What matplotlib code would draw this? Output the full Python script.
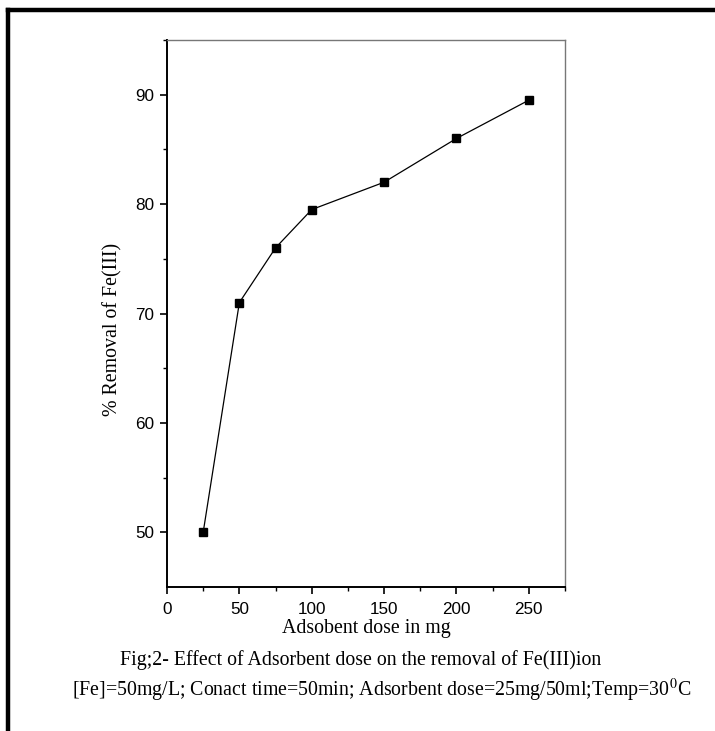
import matplotlib
matplotlib.use("Agg")
import matplotlib.pyplot as plt
from matplotlib.lines import Line2D

# adsorbent dose (mg) vs % removal of Fe(III)
dose = [25, 50, 75, 100, 150, 200, 250]
removal = [50, 71, 76, 79.5, 82, 86, 89.5]

x_ticks = [0, 50, 100, 150, 200, 250]
y_ticks = [50, 60, 70, 80, 90]

plt.rcParams['mathtext.fontset'] = 'stix'

W, H = 715, 731
fig = plt.figure(figsize=(W / 100, H / 100), dpi=100)
ax = fig.add_axes([167 / W, 1 - 587 / H, (565 - 167) / W, (587 - 40) / H])

ax.plot(dose, removal, color='black', lw=0.9, marker='s', ms=6,
        mfc='black', mec='black')

ax.set_xlim(0, 275)
ax.set_ylim(45, 95)
ax.set_xticks(x_ticks)
ax.set_xticks([25, 75, 125, 175, 225, 275], minor=True)
ax.set_yticks(y_ticks)
ax.set_yticks([55, 65, 75, 85, 95], minor=True)

for lab in ax.get_xticklabels() + ax.get_yticklabels():
    lab.set_family('Liberation Sans')
    lab.set_fontsize(12.3)
ax.tick_params(which='major', direction='out', length=5, width=1.2, color='black')
ax.tick_params(which='minor', direction='out', length=3, width=1.0, color='black')
ax.tick_params(axis='x', pad=6)
ax.tick_params(axis='y', pad=4)

ax.spines['left'].set_linewidth(1.4)
ax.spines['bottom'].set_linewidth(1.4)
ax.spines['top'].set_color('#777777')
ax.spines['right'].set_color('#777777')
ax.spines['top'].set_linewidth(1.0)
ax.spines['right'].set_linewidth(1.0)

ax.set_xlabel('Adsobent dose in mg', family='Liberation Serif', fontsize=14.3, labelpad=1)
ax.set_ylabel('% Removal of Fe(III)', family='Liberation Serif', fontsize=14.3)
ax.yaxis.set_label_coords(-0.113, 0.47)

fig.text(361 / W, 1 - 660 / H, 'Fig;2- Effect of Adsorbent dose on the removal of Fe(III)ion',
         family='Liberation Serif', fontsize=14.3, ha='center', va='center')
fig.text(382 / W, 1 - 690 / H,
         '[Fe]=50mg/L; Conact time=50min; Adsorbent dose=25mg/50ml;Temp=30$^{0}$C',
         family='Liberation Serif', fontsize=14.3, ha='center', va='center')

# outer frame (left and top edges)
fig.add_artist(Line2D([8 / W, 8 / W], [0, 1 - 9.5 / H], transform=fig.transFigure,
                      color='black', lw=3.2, solid_capstyle='projecting'))
fig.add_artist(Line2D([8 / W, 1], [1 - 9.5 / H, 1 - 9.5 / H], transform=fig.transFigure,
                      color='black', lw=3.2, solid_capstyle='projecting'))

fig.savefig('out.png', dpi=100)
